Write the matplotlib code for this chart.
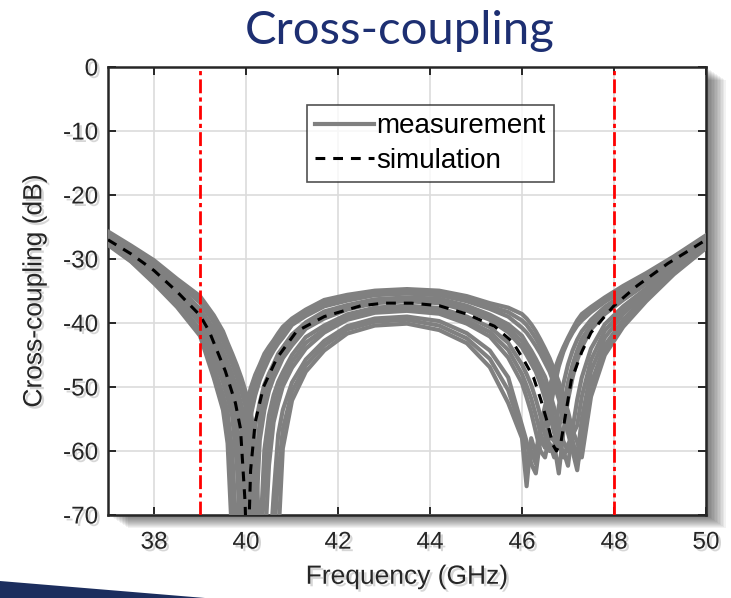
import matplotlib
matplotlib.use("Agg")
import matplotlib.pyplot as plt
import matplotlib.patheffects as pe
from matplotlib.patches import Rectangle, Polygon

plt.rcParams['font.family'] = ['Liberation Sans', 'DejaVu Sans']
plt.rcParams['axes.unicode_minus'] = False

# ---------------- data ----------------
freq = [37, 37.5, 38, 38.5, 39, 39.3, 39.5, 39.6, 39.7, 39.8, 39.9, 40.0, 40.1, 40.2,
        40.3, 40.4, 40.5, 40.6, 40.7, 40.8, 41.0, 41.3, 41.7, 42.2, 42.8, 43.5, 44.2,
        44.8, 45.3, 45.7, 46.0, 46.1, 46.2, 46.3, 46.4, 46.5, 46.6, 46.7, 46.8, 46.9,
        47.0, 47.1, 47.2, 47.3, 47.5, 47.8, 48.2, 48.7, 49.3, 50]

meas_1 = [-27.8, -30.4, -33.8, -37.5, -42.0,
          -48.6, -53.6, -58.8, -74, -76, -58.5, -53.4, -50.2, -48.1, -46.5, -44.8, -43.7, -42.7, -41.6, -40.6,
          -39.3, -37.9, -36.4,
          -35.6, -34.95, -34.7, -34.95, -35.8, -36.9, -37.6,
          -38.6, -39.3, -40.2, -41.3, -42.6, -44.0, -45.5, -47.3, -49.2, -51.4, -53.8, -56.8, -58.6, -61.0,
          -51.5, -45.0, -40.6, -36.6, -32.4, -28.3]
meas_2 = [-27.5, -30.25, -33.2, -36.7, -41.0,
          -46.8, -51.2, -53.9, -60, -74, -77, -61, -54.6, -51.3, -48.9, -47.2, -45.6, -44.3, -43.2, -42.3,
          -40.3, -38.9, -37.4,
          -36.5, -35.65, -35.4, -35.65, -36.6, -37.8, -39.0,
          -40.75, -41.5, -42.5, -43.6, -44.8, -46.2, -47.6, -49.6, -51.9, -54.5, -57.2, -60, -63, -57.5,
          -49.5, -43.5, -39.5, -35.9, -32.0, -28.0]
meas_3 = [-27.2, -29.9, -32.7, -36.1, -40.0,
          -45.3, -49.3, -51.7, -54.6, -62, -76, -78, -65, -56, -52.4, -49.6, -47.9, -46.4, -44.8, -43.8,
          -41.8, -39.9, -38.2,
          -37.2, -36.3, -36.0, -36.2, -37.3, -38.7, -40.2,
          -42.0, -43.2, -44.3, -45.6, -47.0, -48.4, -50.7, -53.3, -55.8, -58.5, -60, -58.5, -61, -55,
          -47.5, -42.3, -38.6, -35.3, -31.7, -27.8]
meas_4 = [-26.9, -29.4, -32.1, -35.4, -39.3,
          -43.8, -47.3, -49.5, -51.8, -54.9, -63.4, -77, -75, -73, -58.3, -53.6, -50.6, -48.6, -47.1, -45.5,
          -43.5, -40.9, -39.3,
          -37.9, -36.9, -36.6, -36.9, -38.05, -39.5, -41.45,
          -43.8, -45.0, -46.3, -47.6, -49.5, -51.8, -54.3, -57.2, -59.5, -60, -62.3, -56.5, -52, -48.5,
          -44.0, -40.2, -37.4, -34.6, -31.3, -27.5]
meas_5 = [-26.6, -29.0, -31.6, -34.8, -38.5,
          -42.4, -45.9, -47.7, -50.0, -52.4, -55.8, -66, -76, -77, -75, -59.8, -54.4, -51.3, -49.2, -47.7,
          -45.0, -42.2, -40.4,
          -38.65, -37.6, -37.3, -37.65, -39.0, -40.65, -43.1,
          -46.5, -48.0, -49.7, -51.9, -54.5, -57.5, -60, -59, -63.5, -57, -52, -48.5, -45.8, -43.8,
          -41.0, -38.6, -36.4, -33.9, -30.9, -27.2]
meas_6 = [-26.3, -28.6, -31.1, -34.2, -37.8,
          -40.9, -44.3, -46.1, -48.0, -50.2, -52.8, -56, -67, -76, -78, -76, -62.2, -55.5, -52.5, -49.9,
          -47.0, -44.0, -41.5,
          -39.5, -38.4, -38.1, -38.55, -40.1, -42.1, -45.4,
          -49.4, -51.6, -54, -57, -60, -61, -57.5, -58.5, -53, -49.5, -46.5, -44.3, -42.6, -41.3,
          -39.5, -37.5, -35.5, -33.3, -30.5, -26.9]
meas_7 = [-26.0, -28.3, -30.7, -33.7, -36.8,
          -39.9, -42.9, -44.6, -46.4, -48.4, -50.7, -53.3, -58, -75, -77, -76, -78, -67, -57.4, -53.6,
          -49.3, -45.7, -42.8,
          -40.5, -39.3, -39.0, -39.7, -41.6, -44.3, -48.5,
          -56, -58.5, -62, -63.5, -58, -59.5, -54, -50, -46.8, -44.5, -42.8, -41.5, -40.4, -39.6,
          -38.3, -36.7, -34.9, -32.8, -30.1, -26.6]
meas_8 = [-25.7, -27.9, -30.2, -33.1, -35.8,
          -38.8, -41.3, -43.1, -44.8, -46.6, -48.6, -50.9, -53.6, -58.8, -74, -77, -76, -78, -74, -59.6,
          -52.1, -47.6, -44.3,
          -41.65, -40.4, -40.1, -41.1, -43.15, -46.9, -52.5,
          -58, -65.5, -58, -60.5, -56, -53, -50, -47.5, -45.5, -43.8, -42.3, -40.9, -39.6, -38.6,
          -37.5, -36.0, -34.2, -32.2, -29.6, -26.3]
meas_9 = [-27.6, -30.3, -33.5, -37.1, -41.5,
          -47.7, -52.4, -56.0, -66, -77, -75, -57.0, -52.3, -49.6, -47.6, -45.9, -44.6, -43.4, -42.4, -41.4,
          -39.8, -38.4, -36.9,
          -36.0, -35.3, -35.0, -35.3, -36.2, -37.4, -38.3,
          -39.6, -40.3, -41.3, -42.4, -43.7, -45.1, -46.5, -48.4, -50.5, -53.0, -55.3, -58.5, -62.0, -59.5,
          -50.5, -44.2, -40.0, -36.2, -32.2, -28.1]
meas_10 = [-27.0, -29.6, -32.4, -35.7, -39.6,
           -44.5, -48.3, -50.6, -53.2, -58.0, -70, -77, -71, -64, -55.2, -51.6, -49.2, -47.5, -46.0, -44.6,
           -42.6, -40.4, -38.7,
           -37.5, -36.6, -36.3, -36.5, -37.7, -39.1, -40.8,
           -42.9, -44.1, -45.3, -46.6, -48.2, -50.0, -52.5, -55.3, -57.5, -61.0, -59.0, -57.5, -56.0, -51.5,
           -45.8, -41.2, -38.0, -35.0, -31.5, -27.6]
meas_11 = [-26.4, -28.8, -31.3, -34.5, -38.1,
           -41.6, -45.1, -46.9, -49.0, -51.3, -54.3, -60, -72, -77, -76, -66, -58.0, -53.4, -50.8, -48.8,
           -46.0, -43.1, -41.0,
           -39.1, -38.0, -37.7, -38.1, -39.6, -41.4, -44.2,
           -48.0, -49.8, -51.8, -54.4, -57.2, -59.3, -58.8, -61.0, -56.5, -53.0, -49.3, -46.5, -44.3, -42.5,
           -40.3, -38.0, -36.0, -33.6, -30.7, -27.0]
meas_12 = [-25.9, -28.1, -30.5, -33.4, -36.3,
           -39.3, -42.1, -43.8, -45.6, -47.5, -49.6, -52.1, -55.8, -66, -76, -77, -77, -74, -64, -56.6,
           -50.7, -46.6, -43.5,
           -41.0, -39.8, -39.5, -40.4, -42.4, -45.6, -50.5,
           -57.0, -62.0, -60.0, -62.0, -57.0, -56.0, -52.0, -48.8, -46.2, -44.1, -42.5, -41.2, -40.0, -39.1,
           -37.9, -36.3, -34.5, -32.5, -29.8, -26.4]
measurements = [meas_1, meas_9, meas_2, meas_3, meas_10, meas_4, meas_5, meas_11,
                meas_6, meas_7, meas_12, meas_8]

sim_freq = [37, 37.5, 38, 38.5, 39, 39.2, 39.55, 39.77, 39.88, 39.98, 40.03, 40.1, 40.2, 40.38,
            40.67, 41.1, 41.7, 42.5, 43.0, 43.6, 44.2, 44.8, 45.4, 45.8, 46.04, 46.25, 46.41,
            46.55, 46.67, 46.75, 46.85, 47.07, 47.3, 47.5, 47.83, 48.0, 48.5, 49.17, 49.6, 50]
sim_db = [-27, -29.2, -31.8, -35.1, -38.8, -41.3, -47.5, -52.5, -56.5, -68, -80, -63, -55.5, -50,
          -45.5, -41.3, -39, -37.3, -36.9, -36.9, -37.3, -38.6, -40.5, -43, -45.8, -48.5, -52,
          -55.5, -59, -60, -58.5, -49, -44.5, -41.5, -38.7, -37.3, -34.2, -30.7, -28.8, -27]

band_edges = [39, 48]
xticks = [38, 40, 42, 44, 46, 48, 50]
yticks = [0, -10, -20, -30, -40, -50, -60, -70]
title_text = "Cross-coupling"
xlabel_text = "Frequency (GHz)"
ylabel_text = "Cross-coupling (dB)"
legend_labels = ["measurement", "simulation"]

# ---------------- figure ----------------
W, H = 731, 598
fig = plt.figure(figsize=(W / 100, H / 100), dpi=100)
fig.patch.set_facecolor('white')

ax_left, ax_right, ax_top, ax_bottom = 108, 706, 67, 515
ax = fig.add_axes([ax_left / W, 1 - ax_bottom / H, (ax_right - ax_left) / W, (ax_bottom - ax_top) / H])
ax.set_zorder(2)

# drop shadow of the axes box
for i in range(1, 14):
    fig.patches.append(Rectangle(((ax_left + i * 1.5) / W, 1 - (ax_bottom + i * 1.0) / H),
                                 (ax_right - ax_left) / W, (ax_bottom - ax_top) / H,
                                 transform=fig.transFigure, facecolor='black', edgecolor='none',
                                 alpha=0.05, zorder=0))

# blue slide decoration
fig.patches.append(Polygon([(0, 1 - 581 / H), (205 / W, 0), (0, 0)], closed=True,
                           transform=fig.transFigure, facecolor='#1c2e5e', edgecolor='none', zorder=1))

txt_shadow = [pe.SimplePatchShadow(offset=(1.8, -1.8), shadow_rgbFace='0.55', alpha=0.35), pe.Normal()]

for k, m in enumerate(measurements):
    ax.plot(freq, m, color='#808080', lw=3.0, solid_joinstyle='round',
            label=legend_labels[0] if k == 0 else None, zorder=3)
ax.plot(sim_freq, sim_db, color='black', lw=2.2, dashes=(3.2, 2.6), label=legend_labels[1], zorder=4)
for b in band_edges:
    ax.axvline(b, color='red', lw=2.0, dashes=(5, 1.5, 1.5, 1.5), zorder=5)

ax.set_xlim(37, 50)
ax.set_ylim(-70, 0)
ax.set_xticks(xticks)
ax.set_yticks(yticks)
ax.set_xticklabels([str(t) for t in xticks])
ax.set_yticklabels([str(t) for t in yticks])
ax.grid(True, color='#dcdcdc', lw=1.2, zorder=0)
ax.set_axisbelow(True)
ax.tick_params(axis='both', direction='in', length=6, width=1.4, top=True, right=True,
               labelsize=17.5, colors='#262626')
ax.tick_params(axis='x', pad=12)
ax.tick_params(axis='y', pad=7)
for lab in ax.get_xticklabels() + ax.get_yticklabels():
    lab.set_path_effects(txt_shadow)
for s in ax.spines.values():
    s.set_linewidth(1.8)
    s.set_color('#262626')

ax.set_xlabel(xlabel_text, fontsize=19, color='#262626', labelpad=8, path_effects=txt_shadow)
ax.set_ylabel(ylabel_text, fontsize=19, color='#262626', labelpad=12, path_effects=txt_shadow)

leg = ax.legend(loc='upper left', bbox_to_anchor=((307 - ax_left) / (ax_right - ax_left),
                                                  (ax_bottom - 105) / (ax_bottom - ax_top)),
                fontsize=20, frameon=True, fancybox=False, edgecolor='#262626',
                handlelength=2.1, handletextpad=0.1, borderpad=0.3, labelspacing=0.3,
                borderaxespad=0)
leg.get_frame().set_linewidth(1.2)
leg.set_zorder(6)

fig.text(400 / W, 1 - 31 / H, title_text, ha='center', va='center', fontsize=34,
         color='#1d2f72', family=['Lato', 'DejaVu Sans'])

fig.savefig('out.png', dpi=100)
